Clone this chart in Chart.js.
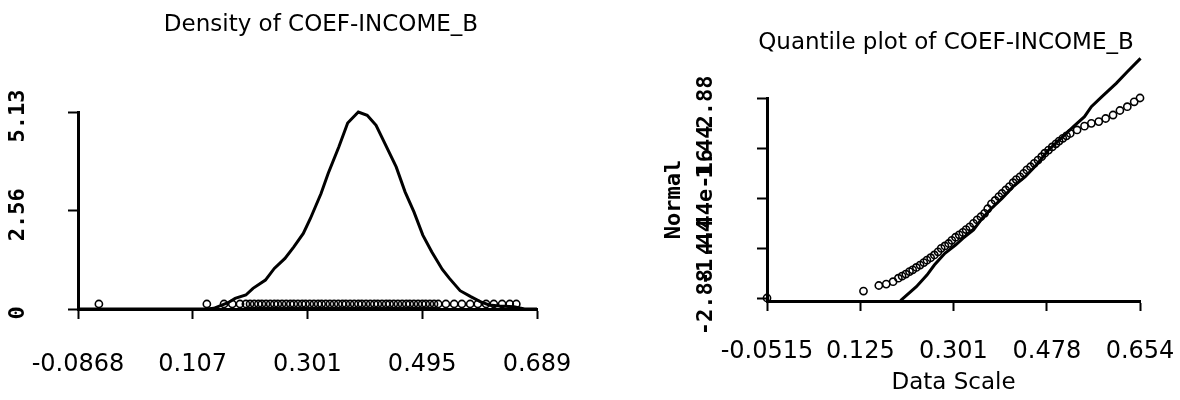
<!DOCTYPE html>
<html>
<head>
<meta charset="utf-8">
<script src="https://cdn.jsdelivr.net/npm/chart.js@4.4.1/dist/chart.umd.min.js"></script>
<style>
  html, body { margin: 0; padding: 0; background: #fff; }
  #wrap { position: relative; width: 1180px; height: 400px; overflow: hidden; background: #fff; }
  canvas { position: absolute; top: 0; }
  #c1 { left: 0; }
  #c2 { left: 590px; }
</style>
</head>
<body>
<div id="wrap">
  <canvas id="c1" width="590" height="400"></canvas>
  <canvas id="c2" width="590" height="400"></canvas>
</div>
<script>
// ---------- data ----------
const densityTitle = 'Density of COEF-INCOME_B';
const quantileTitle = 'Quantile plot of COEF-INCOME_B';

const densityX = [-0.0868, 0.1305, 0.1426, 0.1668, 0.1788, 0.1969, 0.209, 0.230, 0.245, 0.263, 0.278, 0.294, 0.306, 0.324, 0.336, 0.354, 0.369, 0.387, 0.402, 0.417, 0.432, 0.451, 0.466, 0.481, 0.496, 0.511, 0.529, 0.541, 0.559, 0.577, 0.593, 0.608, 0.626, 0.650, 0.668, 0.689];
const densityY = [0, 0, 0.017, 0.165, 0.277, 0.364, 0.537, 0.754, 1.057, 1.317, 1.620, 1.967, 2.357, 3.007, 3.527, 4.220, 4.844, 5.13, 5.043, 4.783, 4.307, 3.700, 3.050, 2.530, 1.924, 1.490, 1.031, 0.797, 0.477, 0.321, 0.191, 0.104, 0.078, 0.061, 0, 0];

// sorted sample values (x of quantile plot, rug of density plot) and their normal scores
const sampleValues = [-0.0515, 0.131, 0.160, 0.174, 0.187, 0.197, 0.204, 0.211, 0.218, 0.224, 0.231, 0.238, 0.245, 0.251, 0.258, 0.265, 0.272, 0.278, 0.285, 0.292, 0.298, 0.305, 0.312, 0.319, 0.325, 0.332, 0.339, 0.346, 0.353, 0.360, 0.366, 0.373, 0.380, 0.387, 0.393, 0.400, 0.407, 0.414, 0.420, 0.427, 0.434, 0.440, 0.447, 0.454, 0.461, 0.468, 0.474, 0.481, 0.488, 0.495, 0.501, 0.508, 0.515, 0.522, 0.535, 0.549, 0.562, 0.576, 0.589, 0.603, 0.616, 0.630, 0.643, 0.654];
const normalScores = [-2.88, -2.68, -2.52, -2.48, -2.41, -2.31, -2.25, -2.19, -2.12, -2.07, -2.00, -1.93, -1.86, -1.79, -1.72, -1.64, -1.55, -1.45, -1.38, -1.31, -1.22, -1.13, -1.06, -0.99, -0.91, -0.83, -0.73, -0.63, -0.54, -0.44, -0.31, -0.17, -0.07, 0.04, 0.13, 0.23, 0.33, 0.44, 0.53, 0.61, 0.71, 0.81, 0.90, 1.00, 1.09, 1.19, 1.29, 1.38, 1.47, 1.56, 1.64, 1.72, 1.79, 1.86, 1.96, 2.07, 2.15, 2.20, 2.29, 2.39, 2.52, 2.63, 2.77, 2.88];
const rugLevel = 0.13;

const qqLineX = [0.201, 0.231, 0.251, 0.265, 0.285, 0.305, 0.319, 0.339, 0.353, 0.370, 0.393, 0.414, 0.437, 0.458, 0.481, 0.508, 0.528, 0.549, 0.562, 0.582, 0.609, 0.630, 0.655];
const qqLineY = [-2.957, -2.554, -2.218, -1.930, -1.594, -1.354, -1.162, -0.922, -0.634, -0.346, -0.010, 0.326, 0.614, 0.950, 1.382, 1.766, 2.054, 2.342, 2.630, 2.918, 3.302, 3.638, 4.022];

const densityXTicks = [-0.0868, 0.107, 0.301, 0.495, 0.689];
const densityXTickLabels = ['-0.0868', '0.107', '0.301', '0.495', '0.689'];
const densityYTicks = [0, 2.56, 5.13];
const densityYTickLabels = ['0', '2.56', '5.13'];

const qqXTicks = [-0.0515, 0.125, 0.301, 0.478, 0.654];
const qqXTickLabels = ['-0.0515', '0.125', '0.301', '0.478', '0.654'];
const qqYTicks = [-2.88, -1.44, 0, 1.44, 2.88];
const qqYTickLabels = ['-2.88', '-1.44', '4.44e-16', '1.44', '2.88'];
const qqXTitle = 'Data Scale';
const qqYTitle = 'Normal';

// ---------- helpers ----------
const sansFont = 'DejaVu Sans';
const pixelFont = 'DejaVu Sans Mono';

function fixedTicks(values) {
  return function (scale) {
    scale.ticks = values.map(v => ({ value: v }));
  };
}

const textPlugin = {
  id: 'texts',
  afterDraw(chart, args, opts) {
    const ctx = chart.ctx;
    const ys = chart.scales.y;
    ctx.save();
    ctx.fillStyle = '#000';
    ctx.textAlign = 'center';
    ctx.textBaseline = 'middle';
    ctx.font = '23px "' + sansFont + '"';
    ctx.fillText(opts.title, opts.titleX, opts.titleY);
    ctx.font = 'bold 22px "' + pixelFont + '"';
    ys.ticks.forEach((t, i) => {
      const py = ys.getPixelForValue(t.value);
      ctx.save();
      ctx.translate(opts.yLabelX, py + 4);
      ctx.rotate(-Math.PI / 2);
      ctx.fillText(opts.yLabels[i], 0, 0);
      ctx.restore();
    });
    ctx.restore();
  }
};

const axisGrid = {
  display: true,
  drawOnChartArea: false,
  drawTicks: true,
  tickLength: 10,
  tickWidth: 2,
  tickColor: '#000'
};
const axisBorder = { display: true, color: '#000', width: 3 };

function fixHeight(h) {
  return function (s) {
    s.height = h;
    s.paddingLeft = 0;
    s.paddingRight = 0;
  };
}
function fixWidth(w) {
  return function (s) {
    s.width = w;
    s.paddingTop = 0;
    s.paddingBottom = 0;
  };
}

Chart.defaults.font.family = sansFont;
Chart.defaults.color = '#000';

const pointStyle = {
  showLine: false,
  pointRadius: 3.6,
  pointBorderWidth: 1.6,
  pointBorderColor: '#000',
  pointBackgroundColor: 'rgba(0,0,0,0)',
  clip: false
};

// ---------- density chart ----------
new Chart(document.getElementById('c1'), {
  type: 'scatter',
  data: {
    datasets: [
      {
        data: densityX.map((x, i) => ({ x: x, y: densityY[i] })),
        showLine: true,
        borderColor: '#000',
        borderWidth: 3,
        pointRadius: 0,
        tension: 0,
        clip: false
      },
      Object.assign({ data: sampleValues.map(v => ({ x: v, y: rugLevel })) }, pointStyle)
    ]
  },
  options: {
    responsive: false,
    animation: false,
    layout: { padding: { left: 0, top: 112, right: 53, bottom: 0 } },
    plugins: {
      legend: { display: false },
      tooltip: { enabled: false },
      texts: { title: densityTitle, titleX: 321, titleY: 25, yLabelX: 18, yLabels: densityYTickLabels }
    },
    scales: {
      x: {
        type: 'linear',
        min: densityXTicks[0],
        max: densityXTicks[densityXTicks.length - 1],
        afterBuildTicks: fixedTicks(densityXTicks),
        afterFit: fixHeight(91),
        grid: axisGrid,
        border: axisBorder,
        ticks: {
          autoSkip: false,
          maxRotation: 0,
          padding: 31,
          font: { family: sansFont, size: 24 },
          color: '#000',
          callback: (v, i) => densityXTickLabels[i]
        }
      },
      y: {
        type: 'linear',
        min: 0,
        max: 5.13,
        afterBuildTicks: fixedTicks(densityYTicks),
        afterFit: fixWidth(78),
        grid: axisGrid,
        border: axisBorder,
        ticks: { display: false }
      }
    }
  },
  plugins: [textPlugin]
});

// ---------- quantile chart ----------
new Chart(document.getElementById('c2'), {
  type: 'scatter',
  data: {
    datasets: [
      {
        data: qqLineX.map((x, i) => ({ x: x, y: qqLineY[i] })),
        showLine: true,
        borderColor: '#000',
        borderWidth: 3,
        pointRadius: 0,
        tension: 0,
        clip: false
      },
      Object.assign({ data: sampleValues.map((v, i) => ({ x: v, y: normalScores[i] })) }, pointStyle)
    ]
  },
  options: {
    responsive: false,
    animation: false,
    layout: { padding: { left: 0, top: 98, right: 40, bottom: 0 } },
    plugins: {
      legend: { display: false },
      tooltip: { enabled: false },
      texts: { title: quantileTitle, titleX: 356, titleY: 43, yLabelX: 116, yLabels: qqYTickLabels }
    },
    scales: {
      x: {
        type: 'linear',
        min: qqXTicks[0],
        max: qqXTicks[qqXTicks.length - 1],
        afterBuildTicks: fixedTicks(qqXTicks),
        afterFit: fixHeight(99),
        grid: axisGrid,
        border: axisBorder,
        title: {
          display: true,
          text: qqXTitle,
          font: { family: sansFont, size: 23 },
          color: '#000',
          padding: { top: 0, bottom: 3 }
        },
        ticks: {
          autoSkip: false,
          maxRotation: 0,
          padding: 26,
          font: { family: sansFont, size: 24 },
          color: '#000',
          callback: (v, i) => qqXTickLabels[i]
        }
      },
      y: {
        type: 'linear',
        min: -2.966,
        max: 2.88,
        afterBuildTicks: fixedTicks(qqYTicks),
        afterFit: fixWidth(177),
        grid: axisGrid,
        border: axisBorder,
        title: {
          display: true,
          text: qqYTitle,
          font: { family: pixelFont, size: 22, weight: 'bold' },
          color: '#000',
          padding: { top: 71, bottom: 0 }
        },
        ticks: { display: false }
      }
    }
  },
  plugins: [textPlugin]
});
</script>
</body>
</html>
